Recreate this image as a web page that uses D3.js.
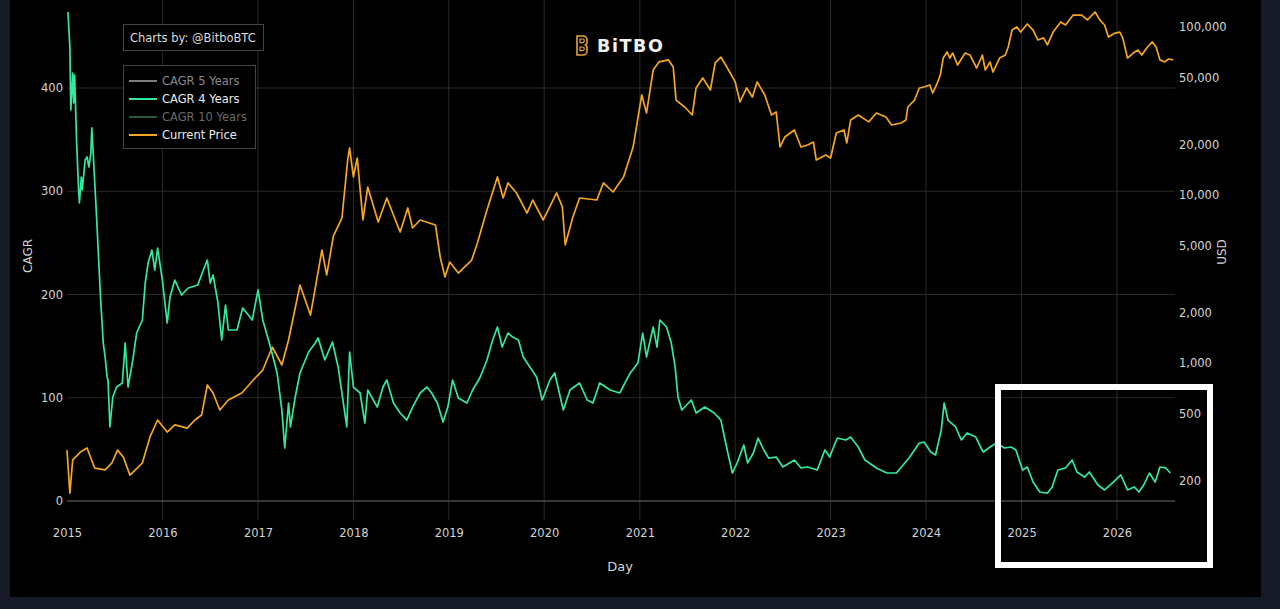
<!DOCTYPE html>
<html><head><meta charset="utf-8">
<script src="https://cdn.jsdelivr.net/npm/d3@7"></script>
<style>
html,body{margin:0;padding:0;background:#151a26;overflow:hidden;}
svg{display:block;font-family:"DejaVu Sans",sans-serif;}
</style>
</head><body>
<svg id="chart" width="1280" height="609"></svg>
<script>
// ---- data ----
const xTickYears = [2015,2016,2017,2018,2019,2020,2021,2022,2023,2024,2025,2026];
const cagrTicks = [0,100,200,300,400];
const usdTicks = [200,500,1000,2000,5000,10000,20000,50000,100000];
const legendLabels = ["CAGR 5 Years","CAGR 4 Years","CAGR 10 Years","Current Price"];

const priceYears = [2015.00,2015.03,2015.06,2015.14,2015.21,2015.29,2015.40,2015.47,2015.53,2015.59,2015.66,2015.79,2015.87,2015.95,2016.05,2016.13,2016.26,2016.34,2016.41,2016.47,2016.53,2016.60,2016.69,2016.83,2016.97,2017.05,2017.15,2017.25,2017.32,2017.44,2017.55,2017.67,2017.72,2017.79,2017.88,2017.94,2017.96,2018.00,2018.04,2018.10,2018.15,2018.26,2018.35,2018.49,2018.57,2018.62,2018.70,2018.86,2018.91,2018.96,2019.01,2019.10,2019.24,2019.30,2019.40,2019.51,2019.57,2019.62,2019.71,2019.82,2019.88,2019.99,2020.13,2020.19,2020.22,2020.30,2020.37,2020.55,2020.62,2020.72,2020.83,2020.93,2021.02,2021.07,2021.14,2021.20,2021.30,2021.35,2021.38,2021.47,2021.55,2021.59,2021.66,2021.74,2021.79,2021.85,2021.93,2022.00,2022.05,2022.12,2022.18,2022.23,2022.31,2022.38,2022.43,2022.47,2022.52,2022.62,2022.69,2022.76,2022.82,2022.85,2022.95,2023.00,2023.06,2023.14,2023.17,2023.21,2023.29,2023.40,2023.48,2023.58,2023.64,2023.74,2023.79,
  2023.81,2023.88,2023.93,2023.98,2024.04,2024.07,2024.11,2024.15,2024.18,2024.22,2024.25,2024.28,2024.33,2024.41,2024.46,2024.53,2024.59,2024.62,2024.67,2024.70,2024.77,2024.83,2024.86,2024.90,2024.95,2024.99,2025.06,2025.12,2025.17,2025.23,2025.27,2025.33,2025.41,2025.46,2025.54,2025.63,2025.69,2025.77,2025.82,2025.87,2025.91,2025.98,2026.03,2026.06,2026.11,2026.17,2026.22,2026.26,2026.32,2026.37,2026.41,2026.45,2026.50,2026.54,2026.59];
const priceValues = [303,168,265,295,312,237,231,254,303,276,215,254,363,458,388,428,410,458,490,740,663,525,602,663,814,908,1245,973,1370,2913,1930,4707,3342,5700,7300,16150,19050,12800,16600,7100,11150,6900,9600,6020,8370,6370,7100,6630,4270,3250,3990,3430,4100,5180,8140,12800,9600,11800,10280,7810,9340,7100,10280,8490,5040,7400,9600,9340,11800,10420,12800,19300,39400,30760,55460,61950,63700,57800,36700,33420,29940,43350,49700,42170,61100,66250,55460,47100,35800,43350,38300,47100,39400,29940,31200,19300,22130,24380,19300,19860,20660,16150,17300,16600,23390,24380,20400,27940,29940,27230,30760,29120,26100,26830,27940,
  33420,36740,43350,43950,45170,40460,45170,51760,65350,71000,65350,70000,59400,70000,68100,57000,68100,55460,61950,53950,65350,68100,76000,95900,100000,93300,104200,95900,83700,86100,78200,93300,107100,102800,117800,117800,110200,122800,110200,102800,87100,92000,93300,86100,65350,70000,72950,68100,76000,81500,76000,63700,61950,64500,63700];

const cagrYears = [2015.01,2015.03,2015.04,2015.06,2015.07,2015.08,2015.10,2015.12,2015.13,2015.15,2015.16,2015.19,2015.21,2015.23,2015.25,2015.26,2015.28,2015.31,2015.35,2015.38,2015.40,2015.42,2015.43,2015.45,2015.48,2015.52,2015.58,2015.61,2015.64,2015.69,2015.73,2015.79,2015.82,2015.85,2015.89,2015.92,2015.95,2016.00,2016.05,2016.08,2016.13,2016.20,2016.27,2016.37,2016.42,2016.47,2016.50,2016.53,2016.58,2016.62,2016.66,2016.69,2016.78,2016.84,2016.94,2017.00,2017.05,2017.13,2017.20,2017.25,2017.28,2017.32,2017.34,2017.39,2017.44,2017.53,2017.60,2017.63,2017.70,2017.78,2017.84,2017.91,2017.93,2017.96,2018.00,2018.07,2018.12,2018.15,2018.25,2018.31,2018.35,2018.42,2018.49,2018.56,2018.62,2018.70,2018.77,2018.82,2018.88,2018.94,2018.99,2019.04,2019.10,2019.19,2019.25,2019.33,2019.40,2019.46,2019.51,2019.56,2019.62,2019.67,2019.73,2019.78,2019.85,2019.92,2019.98,2020.06,2020.11,2020.20,2020.27,2020.37,2020.45,2020.51,2020.58,2020.69,2020.79,2020.90,2020.98,2021.03,2021.07,2021.14,2021.18,2021.21,2021.28,2021.33,2021.37,2021.40,2021.44,2021.54,2021.59,2021.68,2021.78,2021.85,2021.90,2021.97,2022.02,2022.09,2022.13,2022.19,2022.24,2022.30,2022.35,2022.43,2022.50,2022.62,2022.69,2022.76,2022.86,2022.94,2022.99,2023.07,2023.16,2023.21,2023.29,2023.36,2023.48,2023.59,2023.69,2023.76,2023.83,2023.93,2023.98,2024.05,2024.10,2024.16,2024.19,2024.23,2024.31,2024.37,2024.43,2024.52,2024.57,2024.60,2024.67,2024.74,2024.82,2024.89,2024.94,2025.01,2025.06,2025.12,2025.19,2025.27,2025.32,2025.38,2025.46,2025.53,2025.58,2025.66,2025.71,2025.80,2025.87,2025.95,2026.04,2026.11,2026.18,2026.23,2026.28,2026.34,2026.40,2026.45,2026.51,2026.56];
const cagrValues = [473.6,439.7,378.7,414.5,385.5,412.6,349.6,304.1,288.6,313.8,301.2,330.3,333.2,323.5,337.0,361.3,327.4,275.1,199.5,153.0,139.5,120.1,117.2,71.7,100.7,110.4,114.3,153.0,110.4,136.6,162.7,175.3,211.1,230.5,243.1,223.7,245.0,214.0,172.4,197.6,214.0,199.5,206.3,209.2,221.8,233.4,211.1,218.9,192.7,155.9,189.8,165.6,165.6,186.9,175.3,204.4,175.3,149.1,124.0,88.1,51.3,94.9,71.7,100.7,124.0,144.3,153.0,157.9,136.6,154.0,129.8,85.2,71.7,144.3,110.4,104.6,75.5,107.5,91.0,110.4,117.2,94.9,85.2,78.4,91.0,104.6,110.4,104.6,94.9,76.5,91.0,117.2,99.8,94.9,107.5,120.1,136.6,155.9,168.5,149.1,162.7,158.8,155.9,139.5,129.8,120.1,97.8,117.2,124.0,88.1,107.5,114.3,97.8,94.9,114.3,107.5,104.6,124.0,133.7,162.7,139.5,168.5,149.1,175.3,168.5,153.0,129.8,100.7,88.1,97.8,85.2,91.0,85.2,78.4,56.2,27.1,36.8,54.2,36.8,46.5,61.0,49.4,41.6,42.6,32.9,39.7,32.0,32.9,30.0,49.4,42.6,61.0,59.1,62.0,52.3,39.7,32.0,27.1,27.1,34.9,42.6,56.2,57.1,47.5,44.6,68.8,94.9,78.4,71.7,59.1,65.9,62.0,52.3,47.5,52.3,56.2,51.3,52.3,49.4,30.0,32.9,18.4,8.7,7.7,13.6,30.0,32.0,39.7,28.1,23.2,28.1,15.5,10.7,17.4,25.2,10.7,13.6,8.7,15.5,27.1,18.4,32.9,32.0,27.1];

// ---- helpers ----
function yearToDate(y){
  const yr = Math.floor(y);
  const a = Date.UTC(yr,0,1), b = Date.UTC(yr+1,0,1);
  return new Date(a + (y - yr) * (b - a));
}

const svg = d3.select("#chart");
const W = 1280, H = 609;
const plotL = 67, plotR = 1175;

// panel
svg.append("rect").attr("x",0).attr("y",0).attr("width",W).attr("height",H).attr("fill","#151a26");
svg.append("rect").attr("x",10).attr("y",0).attr("width",1251).attr("height",597).attr("fill","#000");

// scales
const x = d3.scaleUtc().domain([new Date(Date.UTC(2015,0,1)), new Date(Date.UTC(2026,0,1))]).range([plotL, 1117]);
const yC = d3.scaleLinear().domain([0,400]).range([501,88]);
const yP = d3.scaleLog().domain([100,100000]).range([531,27]);

// grid
const g = svg.append("g");
g.selectAll("line.v").data(xTickYears.filter(d=>d>2015)).join("line")
  .attr("x1",d=>x(yearToDate(d))).attr("x2",d=>x(yearToDate(d)))
  .attr("y1",0).attr("y2",520).attr("stroke","#2a2a2a").attr("stroke-width",1);
g.selectAll("line.h").data(cagrTicks).join("line")
  .attr("x1",plotL).attr("x2",plotR)
  .attr("y1",d=>yC(d)).attr("y2",d=>yC(d))
  .attr("stroke",d=>d===0?"#4a4a4a":"#2a2a2a").attr("stroke-width",d=>d===0?1.5:1);

// axes
function styleAxis(sel){
  sel.select(".domain").remove();
  sel.selectAll("text").attr("fill","#d4d4d4").style("font-size","11.5px").style("font-family","DejaVu Sans, sans-serif");
}
svg.append("g").attr("transform",`translate(0,520)`)
  .call(d3.axisBottom(x).tickValues(xTickYears.map(yearToDate)).tickFormat(d3.utcFormat("%Y")).tickSize(0).tickPadding(9))
  .call(styleAxis);
svg.append("g").attr("transform",`translate(${plotL},0)`)
  .call(d3.axisLeft(yC).tickValues(cagrTicks).tickFormat(d3.format("d")).tickSize(0).tickPadding(4))
  .call(styleAxis);
svg.append("g").attr("transform",`translate(${plotR},0)`)
  .call(d3.axisRight(yP).tickValues(usdTicks).tickFormat(d3.format(",")).tickSize(0).tickPadding(4))
  .call(styleAxis);

// axis titles
svg.append("text").attr("x",620).attr("y",571).attr("text-anchor","middle")
  .attr("fill","#d4d4d4").style("font-size","13px").text("Day");
svg.append("text").attr("transform","translate(32,256) rotate(-90)").attr("text-anchor","middle")
  .attr("fill","#d4d4d4").style("font-size","12px").text("CAGR");
svg.append("text").attr("transform","translate(1226,252) rotate(-90)").attr("text-anchor","middle")
  .attr("fill","#d4d4d4").style("font-size","12px").text("USD");

// lines
const priceData = priceYears.map((y,i)=>({d:yearToDate(y), v:priceValues[i]}));
const cagrData = cagrYears.map((y,i)=>({d:yearToDate(y), v:cagrValues[i]}));
svg.append("path").datum(priceData)
  .attr("d", d3.line().x(p=>x(p.d)).y(p=>yP(p.v)))
  .attr("fill","none").attr("stroke","#f5a623").attr("stroke-width",1.7).attr("stroke-linejoin","round");
svg.append("path").datum(cagrData)
  .attr("d", d3.line().x(p=>x(p.d)).y(p=>yC(p.v)))
  .attr("fill","none").attr("stroke","#34e89e").attr("stroke-width",1.7).attr("stroke-linejoin","round");

// credits box
svg.append("rect").attr("x",123.5).attr("y",24.5).attr("width",140).attr("height",26)
  .attr("fill","#000").attr("stroke","#444").attr("stroke-width",1);
svg.append("text").attr("x",130).attr("y",42).attr("fill","#dcdcdc").style("font-size","11.5px").text("Charts by: @BitboBTC");

// legend
svg.append("rect").attr("x",123.5).attr("y",65.5).attr("width",132).attr("height",83)
  .attr("fill","#000").attr("stroke","#444").attr("stroke-width",1);
const legLine = ["#7d7d7d","#34e89e","#2c5a3c","#f5a623"];
const legText = ["#8a8a8a","#ececec","#6a6a6a","#ececec"];
const leg = svg.append("g");
legendLabels.forEach((t,i)=>{
  const yy = 81 + i*18;
  leg.append("line").attr("x1",129).attr("x2",157).attr("y1",yy).attr("y2",yy)
    .attr("stroke",legLine[i]).attr("stroke-width",2);
  leg.append("text").attr("x",162).attr("y",yy+4).attr("fill",legText[i]).style("font-size","11.5px").text(t);
});

// logo
const logo = svg.append("g");
logo.append("path").attr("d","M577,36 h6 a4,4 0 0 1 4,4 v2.5 a3,3 0 0 1 -1.5,2.5 a3,3 0 0 1 1.5,2.5 v3.5 a4,4 0 0 1 -4,4 h-6 z")
  .attr("fill","none").attr("stroke","#e8a33a").attr("stroke-width",1.6);
logo.append("path").attr("d","M580,39 h2.5 a1.8,1.8 0 0 1 0,3.6 h-2.5 z M580,47 h2.5 a1.8,1.8 0 0 1 0,3.6 h-2.5 z")
  .attr("fill","none").attr("stroke","#e8a33a").attr("stroke-width",1.2);
logo.append("text").attr("x",597).attr("y",52).attr("fill","#f2f2f2")
  .style("font-size","17.5px").style("font-weight","bold").style("letter-spacing","1.6px").text("BiTBO");

// highlight rectangle
svg.append("rect").attr("x",998).attr("y",387).attr("width",212).attr("height",178)
  .attr("fill","none").attr("stroke","#fff").attr("stroke-width",6);
</script>
</body></html>
